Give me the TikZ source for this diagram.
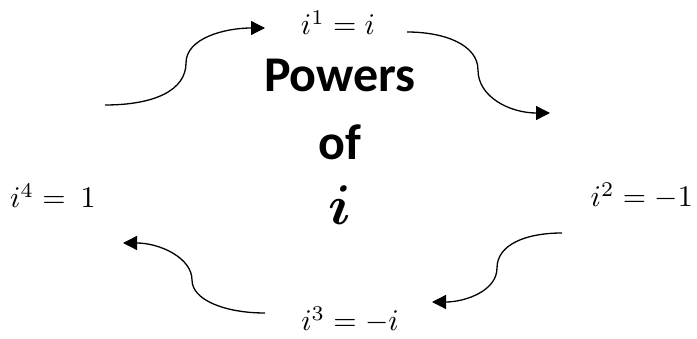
\documentclass[tikz,border=0pt]{standalone}
\usepackage{bm}
\usepackage{graphicx}
\usepackage{fontspec}
\setmainfont{Carlito}
\usetikzlibrary{arrows.meta}
\newcommand{\bigmath}[1]{\scalebox{3.0}{$#1$}}
\tikzset{
  mathlbl/.style={inner sep=0pt},
  titlelbl/.style={inner sep=0pt, font=\fontsize{50}{56}\selectfont\bfseries},
  cyc/.style={line width=1.3pt, -{Triangle[length=14pt,width=14pt]}}
}
\begin{document}
\begin{tikzpicture}[x=1pt,y=-1pt]
\useasboundingbox (0,0) rectangle (697,339);
% labels
\node[mathlbl, anchor=base] (p1) at (338,35) {\bigmath{i^1 = i}};
\node[mathlbl, anchor=base east] (p2) at (693,207) {\bigmath{i^2 = -1}};
\node[mathlbl, anchor=base] (p3) at (350,331) {\bigmath{i^3 = -i}};
\node[mathlbl, anchor=base west] (p4) at (10,208) {\bigmath{i^4 =\ 1}};
\node[titlelbl, anchor=base] (t1) at (340,92) {Powers};
\node[titlelbl, anchor=base] (t2) at (340,160) {of};
\node[inner sep=0pt, anchor=base] (t3) at (340,225) {\scalebox{5.6}{$\bm{i}$}};
% arrow end points
\coordinate (a1) at (105,105);
\coordinate (a2) at (265,28);
\coordinate (b1) at (407,32);
\coordinate (b2) at (550,113);
\coordinate (c1) at (562,233);
\coordinate (c2) at (432,302);
\coordinate (d1) at (265,313);
\coordinate (d2) at (123,243);
% arrows
\draw[cyc] (a1) .. controls (155,105) and (186,90) .. (186,63)
               .. controls (186,38) and (225,28) .. (a2);
\draw[cyc] (b1) .. controls (445,32) and (478,45) .. (478,70)
               .. controls (478,97) and (510,113) .. (b2);
\draw[cyc] (c1) .. controls (525,233) and (497,245) .. (497,268)
               .. controls (497,291) and (465,302) .. (c2);
\draw[cyc] (d1) .. controls (225,313) and (192,300) .. (192,280)
               .. controls (192,258) and (160,243) .. (d2);
\end{tikzpicture}
\end{document}
